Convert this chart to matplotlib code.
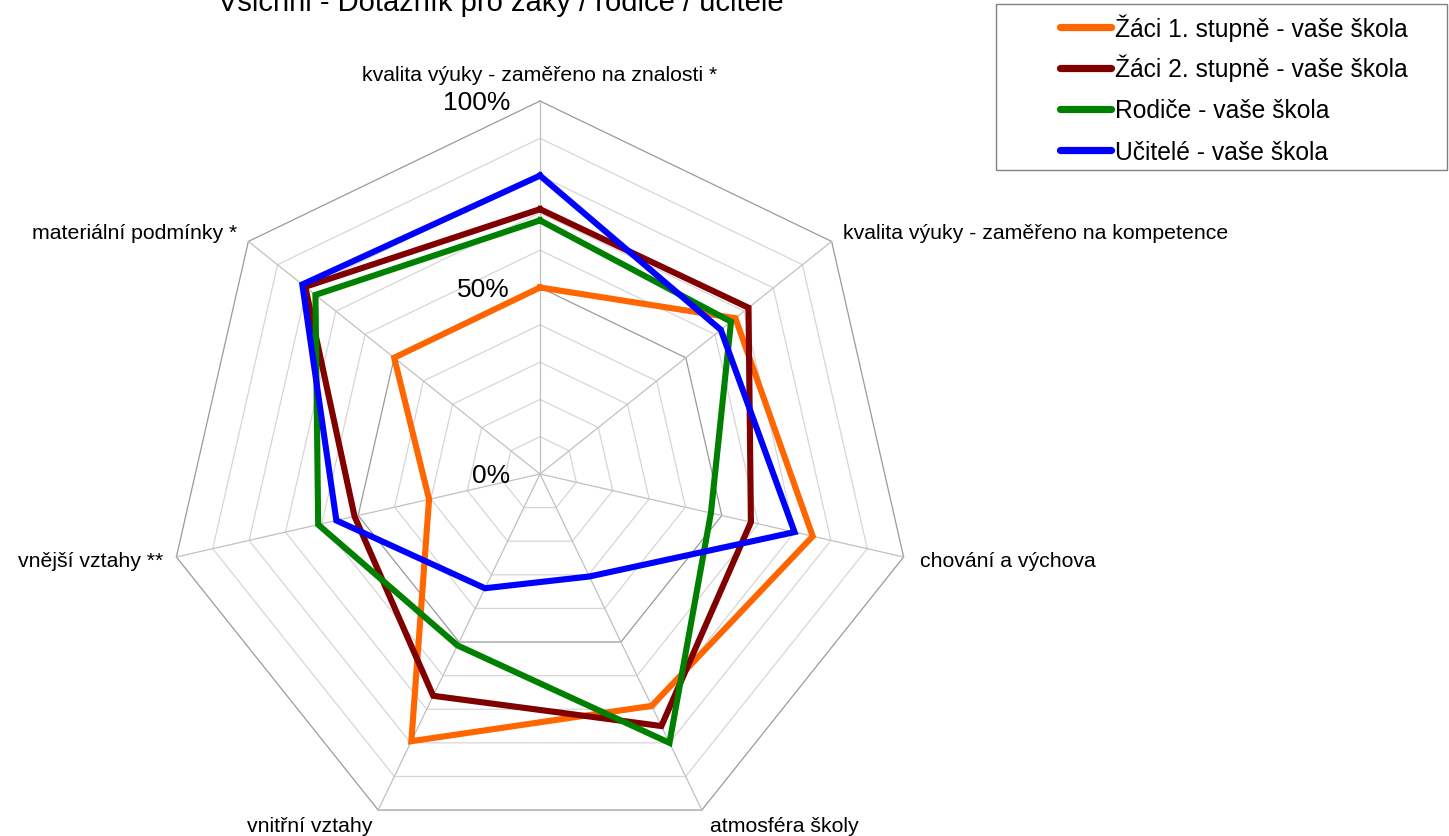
import numpy as np
import matplotlib
matplotlib.use('Agg')
import matplotlib.pyplot as plt
from matplotlib.patches import Rectangle
from matplotlib.lines import Line2D

plt.rcParams['font.family'] = ['Liberation Sans', 'DejaVu Sans']

title = 'Všichni - Dotazník pro žáky / rodiče / učitele'
categories = ['kvalita výuky - zaměřeno na znalosti *',
              'kvalita výuky - zaměřeno na kompetence',
              'chování a výchova',
              'atmosféra školy',
              'vnitřní vztahy',
              'vnější vztahy **',
              'materiální podmínky *']
series_names = ['Žáci 1. stupně - vaše škola',
                'Žáci 2. stupně - vaše škola',
                'Rodiče - vaše škola',
                'Učitelé - vaše škola']
zaci1 = [50, 67, 75, 69, 79.5, 30.5, 50]
zaci2 = [71, 71.5, 58, 75, 66, 51, 80.5]
rodice = [68, 65.5, 47, 80, 51, 61, 77]
ucitele = [80, 62, 70, 30.5, 34, 56, 81.5]
series = [zaci1, zaci2, rodice, ucitele]
colors = ['#FF6600', '#800000', '#008000', '#0000FF']
tick_values = [0, 50, 100]
tick_labels = ['0%', '50%', '100%']

W, H = 1449, 837
fig = plt.figure(figsize=(W / 100, H / 100), dpi=100)
cx, cy, R = 540, 475, 373
ax = fig.add_axes([(cx - R) / W, (H - cy - R) / H, 2 * R / W, 2 * R / H], projection='polar')
ax.set_theta_zero_location('N')
ax.set_theta_direction(-1)
ax.set_ylim(0, 100)
ax.set_axis_off()

n = len(categories)
theta = np.arange(n) * 2 * np.pi / n
theta_c = np.append(theta, theta[0])

# grid rings
for v in range(10, 101, 10):
    col = '#9a9a9a' if v in (50, 100) else '#d6d6d6'
    ax.plot(theta_c, [v] * (n + 1), color=col, lw=0.9, clip_on=False, zorder=1)
# spokes
for t in theta:
    ax.plot([t, t], [0, 100], color='#c0c0c0', lw=0.9, clip_on=False, zorder=1)

# data
for vals, col, name in zip(series, colors, series_names):
    ax.plot(theta_c, list(vals) + [vals[0]], color=col, lw=4.4, clip_on=False,
            solid_joinstyle='miter', zorder=3, label=name)

# tick labels
for v, lab in zip(tick_values, tick_labels):
    ax.annotate(lab, xy=(0, v), xytext=(-30 * 0.72, -1.5 * 0.72), textcoords='offset points',
                ha='right', va='center', fontsize=19, color='black', annotation_clip=False)

# category labels: (dx px, dy px up, ha)
offs = [(0, 26, 'center'), (11, 9, 'left'), (16, -3, 'left'), (82, -15, 'center'),
        (-68, -15, 'center'), (-13, -3, 'right'), (-11, 9, 'right')]
for t, lab, (dx, dy, ha) in zip(theta, categories, offs):
    ax.annotate(lab, xy=(t, 100), xytext=(dx * 0.72, dy * 0.72), textcoords='offset points',
                ha=ha, va='center', fontsize=15.3, color='black', annotation_clip=False)

# title (partly cut off at top, as in the reference)
fig.text(501 / W, 1 - 11 / H, title, ha='center', va='baseline', fontsize=21, color='black')

# legend box with entries
fig.patches.append(Rectangle((996 / W, 1 - 171 / H), (1447 - 996) / W, (171 - 5) / H,
                             transform=fig.transFigure, fill=False, edgecolor='#808080', lw=1))
row_y = [28, 69, 110, 151]
for ry, col, name in zip(row_y, colors, series_names):
    fig.lines.append(Line2D([1060 / W, 1111 / W], [1 - ry / H, 1 - ry / H],
                            transform=fig.transFigure, color=col, lw=5.2,
                            solid_capstyle='round'))
    fig.text(1115 / W, 1 - (ry + 8.5) / H, name, ha='left', va='baseline',
             fontsize=17.7, color='black')

fig.savefig('out.png', dpi=100)
